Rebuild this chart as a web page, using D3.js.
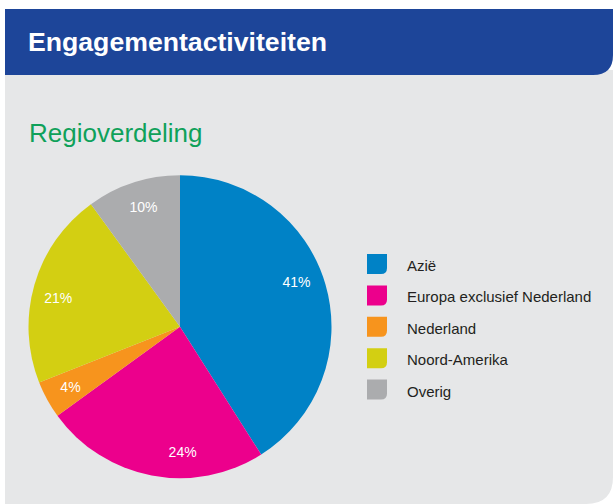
<!DOCTYPE html>
<html>
<head>
<meta charset="utf-8">
<script src="https://cdn.jsdelivr.net/npm/d3@7"></script>
<style>
  html, body { margin: 0; padding: 0; background: #ffffff; }
  svg { display: block; }
</style>
</head>
<body>
<script>
// Regioverdeling van engagementactiviteiten (percentages)
const regions = ["Azië", "Europa exclusief Nederland", "Nederland", "Noord-Amerika", "Overig"];
const shares = [41, 24, 4, 21, 10];
const sliceColors = ["#0082c6", "#ec008c", "#f7941d", "#d3cf12", "#abacae"];
// small angular nudges (degrees) for the percentage labels inside the slices
const labelNudge = [-5, -12, 0, -3, 1];

const W = 613, H = 504;
const svg = d3.select("body").append("svg").attr("width", W).attr("height", H);

// panel with rounded bottom-right corner
function cornerPath(x, y, w, h, r) {
  return `M${x},${y}H${x + w}V${y + h - r}Q${x + w},${y + h} ${x + w - r},${y + h}H${x}Z`;
}
svg.append("path").attr("d", cornerPath(5, 70, 608, 434, 27)).attr("fill", "#e6e7e8");
svg.append("path").attr("d", cornerPath(5, 9, 608, 66, 20)).attr("fill", "#1d4599");

svg.append("text")
  .attr("x", 28).attr("y", 51)
  .attr("fill", "#ffffff")
  .attr("font-family", "'Liberation Sans', Arial, sans-serif")
  .attr("font-weight", "bold")
  .attr("font-size", 25)
  .attr("textLength", 299)
  .attr("lengthAdjust", "spacingAndGlyphs")
  .text("Engagementactiviteiten");

svg.append("text")
  .attr("x", 29).attr("y", 142)
  .attr("fill", "#0fa15a")
  .attr("font-family", "'Liberation Sans', Arial, sans-serif")
  .attr("font-size", 26)
  .text("Regioverdeling");

// pie
const cx = 180, cy = 326.7, R = 151.5;
const pie = d3.pie().sort(null).value(d => d)(shares);
const arc = d3.arc().innerRadius(0).outerRadius(R);
const g = svg.append("g").attr("transform", `translate(${cx},${cy})`);

g.selectAll("path.slice").data(pie).join("path")
  .attr("class", "slice")
  .attr("d", arc)
  .attr("fill", (d, i) => sliceColors[i]);

const labelR = 125;
g.selectAll("text.pct").data(pie).join("text")
  .attr("class", "pct")
  .attr("x", (d, i) => labelR * Math.sin((d.startAngle + d.endAngle) / 2 + labelNudge[i] * Math.PI / 180))
  .attr("y", (d, i) => -labelR * Math.cos((d.startAngle + d.endAngle) / 2 + labelNudge[i] * Math.PI / 180))
  .attr("dy", "0.36em")
  .attr("text-anchor", "middle")
  .attr("fill", "#ffffff")
  .attr("font-family", "'Liberation Sans', Arial, sans-serif")
  .attr("font-size", 14)
  .text(d => d.data + "%");

// legend
const legendY = d3.scaleBand().domain(regions).range([254, 411]).paddingInner(0);
const lg = svg.append("g");
const rows = lg.selectAll("g").data(regions).join("g")
  .attr("transform", d => `translate(367,${legendY(d)})`);
rows.append("path")
  .attr("d", cornerPath(0, 0, 20, 20, 6))
  .attr("fill", (d, i) => sliceColors[i]);
rows.append("text")
  .attr("x", 40).attr("y", 17)
  .attr("fill", "#231f20")
  .attr("font-family", "'Liberation Sans', Arial, sans-serif")
  .attr("font-size", 15)
  .text(d => d);
</script>
</body>
</html>
